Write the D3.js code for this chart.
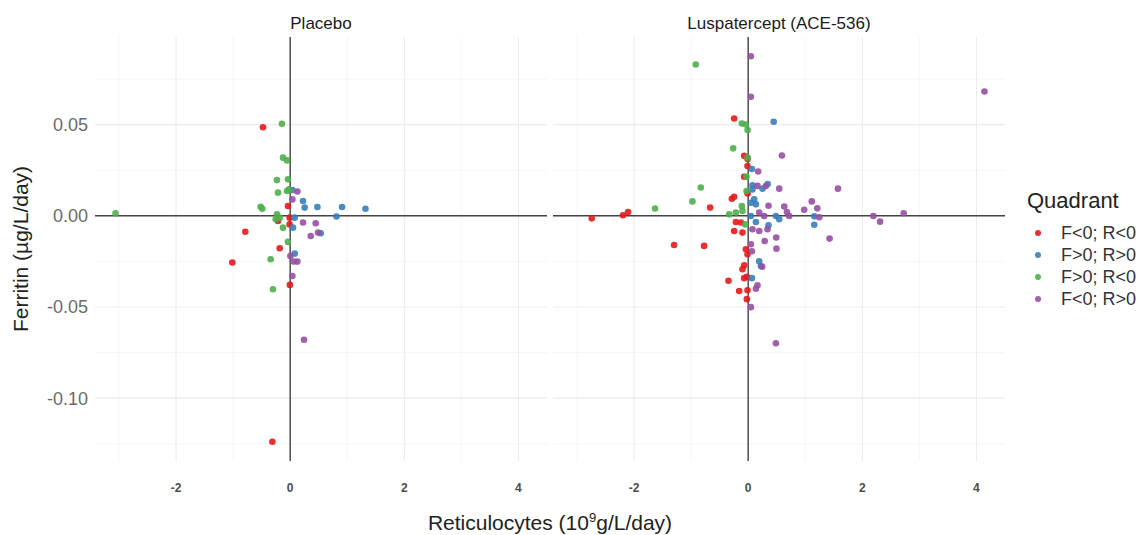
<!DOCTYPE html>
<html><head><meta charset="utf-8">
<script src="https://cdn.jsdelivr.net/npm/d3@7"></script>
<style>body{margin:0;background:#fff} svg{display:block}</style>
</head><body><svg id="chart" width="1143" height="535"></svg>
<script>
const panels = ["Placebo", "Luspatercept (ACE-536)"];
const quadrants = ["F<0; R<0", "F>0; R>0", "F>0; R<0", "F<0; R>0"];
const colors = ["#E41A1C", "#377EB8", "#4DAF4A", "#984EA3"];
const xMajorTicks = [-2, 0, 2, 4];
const xMinorTicks = [-3, -1, 1, 3];
const yMajorTicks = [-0.10, -0.05, 0.00, 0.05];
const yMinorTicks = [-0.125, -0.075, -0.025, 0.025, 0.075];

// Placebo: [reticulocytes, ferritin]
const placeboRed = [[-0.477,0.0486],[-0.039,0.0054],[-0.009,-0.0010],[-0.010,-0.0047],[-0.214,-0.0028],[-0.786,-0.0087],[-0.184,-0.0178],[-1.014,-0.0256],[-0.005,-0.0379],[-0.312,-0.1239]];
const placeboBlue = [[0.039,0.0141],[0.225,0.0081],[0.254,0.0045],[0.477,0.0048],[0.909,0.0048],[1.319,0.0039],[0.811,-0.0004],[0.079,-0.0010],[0.049,-0.0065],[0.535,-0.0096],[0.079,-0.0207]];
const placeboGreen = [[-0.144,0.0505],[-0.126,0.0319],[-0.056,0.0304],[-0.232,0.0196],[-0.039,0.0200],[-0.214,0.0127],[-0.056,0.0136],[-0.020,0.0145],[-0.518,0.0050],[-0.488,0.0039],[-0.232,0.0008],[-0.184,-0.0010],[-0.254,-0.0019],[-0.126,-0.0065],[-0.039,-0.0143],[-0.342,-0.0238],[-0.302,-0.0403],[-3.060,0.0014]];
const placeboPurple = [[0.126,0.0133],[0.039,0.0090],[0.225,-0.0037],[0.447,-0.0041],[0.360,-0.0111],[0.488,-0.0092],[0.004,-0.0220],[0.126,-0.0251],[0.061,-0.0251],[0.039,-0.0330],[0.242,-0.0680]];

// Luspatercept
const lusRed = [[-0.246,0.0534],[-0.070,0.0329],[-0.012,0.0273],[-0.070,0.0214],[-0.286,0.0094],[-0.246,0.0104],[-0.010,0.0123],[-0.667,0.0045],[-2.105,0.0021],[-2.193,0.0003],[-2.742,-0.0014],[-0.216,-0.0034],[-0.128,-0.0037],[-0.246,-0.0083],[-0.100,-0.0092],[-0.772,-0.0165],[-1.298,-0.0160],[-0.040,-0.0183],[-0.012,-0.0211],[-0.070,-0.0271],[-0.100,-0.0293],[-0.070,-0.0342],[-0.023,-0.0334],[-0.345,-0.0356],[-0.158,-0.0412],[-0.012,-0.0408],[-0.023,-0.0457],[-0.010,0.0311]];
const lusBlue = [[0.447,0.0516],[0.065,0.0257],[0.075,0.0168],[0.251,0.0149],[0.342,0.0174],[0.105,0.0090],[0.135,0.0063],[0.075,0.0145],[0.047,0.0072],[0.047,-0.0001],[0.135,-0.0034],[0.356,-0.0052],[0.486,-0.0001],[0.544,-0.0019],[1.158,-0.0003],[1.158,-0.0049],[0.193,-0.0249],[0.223,-0.0275],[0.065,-0.0342]];
const lusGreen = [[-0.918,0.0830],[-0.111,0.0506],[-0.041,0.0501],[-0.010,0.0471],[-0.263,0.0370],[-0.010,0.0319],[-0.029,0.0214],[-0.830,0.0155],[-0.977,0.0079],[-0.029,0.0136],[-1.632,0.0040],[-0.111,0.0054],[-0.216,0.0018],[-0.333,0.0008],[-0.100,0.0027],[-0.053,-0.0047]];
const lusPurple = [[0.047,0.0875],[0.047,0.0653],[0.591,0.0331],[0.175,0.0243],[0.163,0.0164],[0.310,0.0163],[0.544,0.0149],[0.356,0.0055],[0.632,0.0051],[0.982,0.0033],[1.114,0.0079],[1.211,0.0041],[0.679,0.0021],[0.719,-0.0001],[0.193,0.0018],[0.281,-0.0001],[1.246,-0.0008],[1.573,0.0149],[0.075,-0.0074],[0.193,-0.0083],[0.339,-0.0074],[0.289,-0.0138],[0.491,-0.0119],[1.426,-0.0125],[0.496,-0.0180],[0.047,-0.0156],[0.065,-0.0194],[0.246,-0.0279],[0.163,-0.0381],[0.135,-0.0400],[0.047,-0.0501],[0.486,-0.0699],[2.193,-0.0001],[2.311,-0.0032],[2.725,0.0014],[4.140,0.0682]];

const panelSeries = [
  [placeboRed, placeboBlue, placeboGreen, placeboPurple],
  [lusRed, lusBlue, lusGreen, lusPurple]
];

const svg = d3.select("#chart");
const font = "Liberation Sans, Arial, sans-serif";
const plotTop = 37, plotBottom = 461, panelW = 452;
const panelLeft = [95, 553];

const allPts = panelSeries.flat(2);
function expand(ext) { const p = (ext[1] - ext[0]) * 0.05; return [ext[0] - p, ext[1] + p]; }
const xDom = expand(d3.extent(allPts, d => d[0]));
const yDom = expand(d3.extent(allPts, d => d[1]));
const y = d3.scaleLinear().domain(yDom).range([plotBottom, plotTop]);

panels.forEach((name, pi) => {
  const x = d3.scaleLinear().domain(xDom).range([panelLeft[pi], panelLeft[pi] + panelW]);
  const g = svg.append("g");
  g.selectAll(".xmin").data(xMinorTicks).join("line")
    .attr("x1", d => x(d)).attr("x2", d => x(d)).attr("y1", plotTop).attr("y2", plotBottom)
    .attr("stroke", "#efefef").attr("stroke-width", 0.6);
  g.selectAll(".ymin").data(yMinorTicks).join("line")
    .attr("y1", d => y(d)).attr("y2", d => y(d)).attr("x1", x.range()[0]).attr("x2", x.range()[1])
    .attr("stroke", "#efefef").attr("stroke-width", 0.6);
  g.selectAll(".xmaj").data(xMajorTicks).join("line")
    .attr("x1", d => x(d)).attr("x2", d => x(d)).attr("y1", plotTop).attr("y2", plotBottom)
    .attr("stroke", "#ebebeb").attr("stroke-width", 1.1);
  g.selectAll(".ymaj").data(yMajorTicks).join("line")
    .attr("y1", d => y(d)).attr("y2", d => y(d)).attr("x1", x.range()[0]).attr("x2", x.range()[1])
    .attr("stroke", "#ebebeb").attr("stroke-width", 1.1);
  g.append("line").attr("x1", x(0)).attr("x2", x(0)).attr("y1", plotTop).attr("y2", plotBottom)
    .attr("stroke", "#444").attr("stroke-width", 1.4);
  g.append("line").attr("y1", y(0)).attr("y2", y(0)).attr("x1", x.range()[0]).attr("x2", x.range()[1])
    .attr("stroke", "#444").attr("stroke-width", 1.4);
  panelSeries[pi].forEach((series, si) => {
    g.append("g").selectAll("circle").data(series).join("circle")
      .attr("cx", d => x(d[0])).attr("cy", d => y(d[1])).attr("r", 3.3)
      .attr("fill", colors[si]).attr("fill-opacity", 0.9);
  });
  svg.append("text").attr("x", (x.range()[0] + x.range()[1]) / 2).attr("y", 29)
    .attr("text-anchor", "middle").attr("font-family", font).attr("font-size", 17)
    .attr("fill", "#1a1a1a").text(name);
  svg.append("g").selectAll("text").data(xMajorTicks).join("text")
    .attr("x", d => x(d)).attr("y", 492).attr("text-anchor", "middle")
    .attr("font-family", font).attr("font-size", 12).attr("font-weight", "bold").attr("fill", "#4d4d4d")
    .text(d => d3.format("d")(d).replace("\u2212", "-"));
});

svg.append("g").selectAll("text").data(yMajorTicks).join("text")
  .attr("x", 88).attr("y", d => y(d)).attr("dy", "0.36em").attr("text-anchor", "end")
  .attr("font-family", font).attr("font-size", 18).attr("fill", "#6b6b6b")
  .text(d => d3.format(".2f")(d).replace("\u2212", "-"));

const xt = svg.append("text").attr("x", 550).attr("y", 530).attr("text-anchor", "middle")
  .attr("font-family", font).attr("font-size", 21).attr("fill", "#222");
xt.append("tspan").text("Reticulocytes (10");
xt.append("tspan").attr("font-size", 13).attr("dy", -8).text("9");
xt.append("tspan").attr("dy", 8).text("g/L/day)");

svg.append("text").attr("transform", `translate(28,${(plotTop + plotBottom) / 2}) rotate(-90)`)
  .attr("text-anchor", "middle").attr("font-family", font).attr("font-size", 21).attr("fill", "#222")
  .text("Ferritin (\u00b5g/L/day)");

const lg = svg.append("g");
lg.append("text").attr("x", 1027).attr("y", 208).attr("font-family", font).attr("font-size", 22)
  .attr("fill", "#222").text("Quadrant");
quadrants.forEach((q, i) => {
  const cy = 233 + i * 22;
  lg.append("circle").attr("cx", 1038).attr("cy", cy).attr("r", 3).attr("fill", colors[i]).attr("fill-opacity", 0.9);
  lg.append("text").attr("x", 1061).attr("y", cy).attr("dy", "0.36em").attr("font-family", font)
    .attr("font-size", 18).attr("fill", "#333").text(q);
});
</script></body></html>
